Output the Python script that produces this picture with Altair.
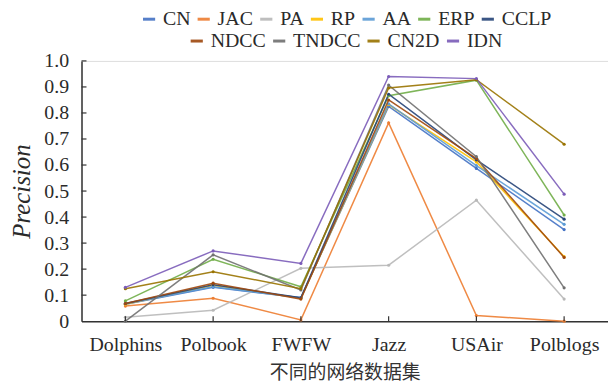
import altair as alt
import pandas as pd

datasets = ["Dolphins", "Polbook", "FWFW", "Jazz", "USAir", "Polblogs"]

methods = ["CN", "JAC", "PA", "RP", "AA", "ERP", "CCLP", "NDCC", "TNDCC", "CN2D", "IDN"]
colors = ["#4472C4", "#ED7D31", "#B8B8B8", "#FFC000", "#5B9BD5", "#70AD47",
          "#264478", "#9E480E", "#707070", "#997300", "#7B5CB8"]

CN    = [0.065, 0.130, 0.090, 0.825, 0.587, 0.352]
JAC   = [0.058, 0.088, 0.005, 0.762, 0.022, 0.000]
PA    = [0.015, 0.042, 0.203, 0.215, 0.465, 0.085]
RP    = [0.065, 0.138, 0.088, 0.832, 0.612, 0.248]
AA    = [0.067, 0.132, 0.090, 0.835, 0.598, 0.372]
ERP   = [0.078, 0.238, 0.132, 0.866, 0.926, 0.408]
CCLP  = [0.068, 0.140, 0.090, 0.872, 0.620, 0.392]
NDCC  = [0.068, 0.146, 0.085, 0.850, 0.625, 0.245]
TNDCC = [0.000, 0.255, 0.120, 0.907, 0.632, 0.128]
CN2D  = [0.125, 0.190, 0.125, 0.896, 0.928, 0.680]
IDN   = [0.130, 0.270, 0.222, 0.940, 0.932, 0.488]

series = [CN, JAC, PA, RP, AA, ERP, CCLP, NDCC, TNDCC, CN2D, IDN]
y_ticks = [0.1, 0.2, 0.3, 0.4, 0.5, 0.6, 0.7, 0.8, 0.9, 1.0]
y_values = [0.0] + y_ticks

rows = []
for m, vals in zip(methods, series):
    for d, v in zip(datasets, vals):
        rows.append({"method": m, "dataset": d, "value": v})
df = pd.DataFrame(rows)

g1 = methods[:7]
g2 = methods[7:]
df1 = df[df.method.isin(g1)]
df2 = df[df.method.isin(g2)]

SERIF = "Liberation Serif"
TXT = "#2a2a2a"
W, H = 530, 262

xscale = alt.Scale(type="point", padding=0.5, domain=datasets)
yscale = alt.Scale(domain=[0, 1])

xaxis = alt.Axis(title="不同的网络数据集", labelAngle=0, labelAlign="center",
                 labelBaseline="top", ticks=False, labelOverlap=False,
                 labelFont=SERIF, labelFontSize=20, labelColor=TXT,
                 labelPadding=14, titleFont="Noto Sans CJK SC",
                 titleFontSize=19, titleFontWeight="normal",
                 titleColor="#333", titlePadding=9,
                 domainColor="#333", domainWidth=1.5)
yaxis = alt.Axis(title="Precision", values=y_values, ticks=False,
                 labelOverlap=False,
                 labelExpr="datum.value == 0 ? '0' : format(datum.value, '.1f')",
                 labelFont=SERIF, labelFontSize=20, labelColor=TXT,
                 labelPadding=13, titleFont=SERIF, titleFontSize=25,
                 titleFontStyle="italic", titleFontWeight="normal",
                 titleColor=TXT, titlePadding=9, grid=False,
                 domainColor="#333", domainWidth=1.5)

xenc = alt.X("dataset:N", sort=datasets, scale=xscale, axis=xaxis)
yenc = alt.Y("value:Q", scale=yscale, axis=yaxis)

def legend(x, y):
    return alt.Legend(title=None, orient="none", legendX=x, legendY=y,
                      direction="horizontal", symbolType="stroke",
                      symbolSize=150, symbolStrokeWidth=3, labelFont=SERIF,
                      labelFontSize=20, labelColor=TXT, columnPadding=0,
                      labelOffset=4)

def lines(data, names, cols, lx, ly):
    return alt.Chart(data).mark_line(
        strokeWidth=1.5, opacity=0.9,
        point=alt.OverlayMarkDef(size=10, filled=True)
    ).encode(
        x=xenc, y=yenc,
        color=alt.Color("method:N", scale=alt.Scale(domain=names, range=cols),
                        sort=names, legend=legend(lx, ly)),
    )

layer1 = lines(df1, g1, colors[:7], 58, -52)
layer2 = lines(df2, g2, colors[7:], 106, -30)

ytick_df = pd.DataFrame({"value": y_ticks})
yt = alt.Chart(ytick_df).mark_rule(color="#333", strokeWidth=1.2).encode(
    y=yenc, x=alt.value(0), x2=alt.value(5))
xtick_df = pd.DataFrame({"dataset": datasets})
xt = alt.Chart(xtick_df).mark_rule(color="#333", strokeWidth=1.2).encode(
    x=xenc, y=alt.value(H), y2=alt.value(H - 5))

chart = alt.layer(layer1, layer2, yt, xt).resolve_scale(
    color="independent"
).properties(
    width=W, height=H,
    autosize=alt.AutoSizeParams(type="none"),
    padding={"left": 74, "top": 52, "right": 0, "bottom": 66},
).configure_view(stroke=None).configure(background="white")

chart.save("out.html", embed_options={"renderer": "svg", "actions": False})
